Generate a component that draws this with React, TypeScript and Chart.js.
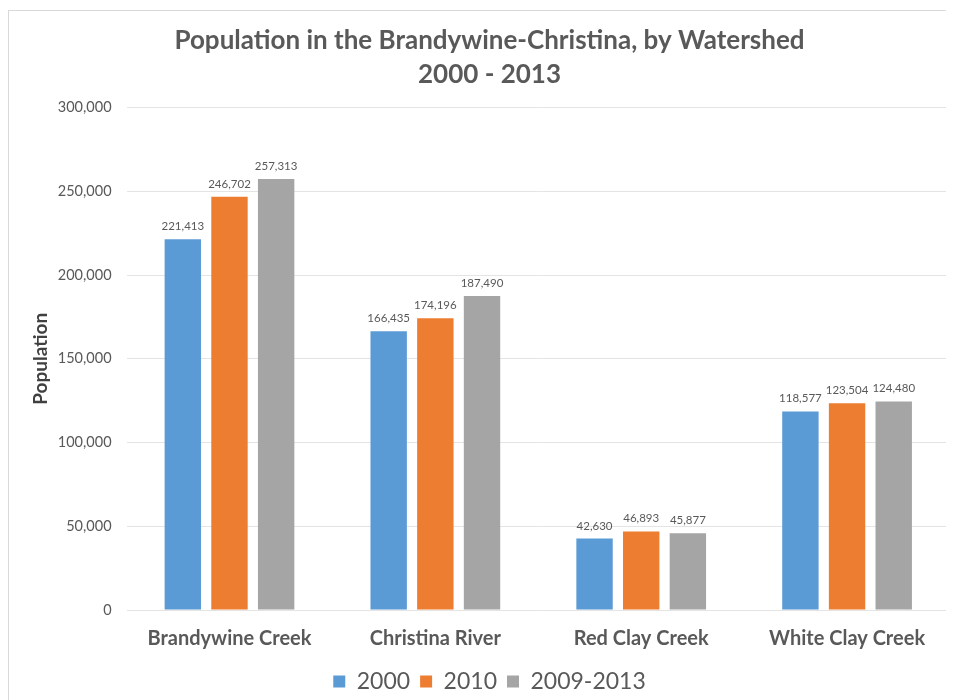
import React, { useEffect, useRef } from "react";
import { Chart, registerables } from "chart.js";

Chart.register(...registerables);

const categories = ["Brandywine Creek", "Christina River", "Red Clay Creek", "White Clay Creek"];
const series2000 = [221413, 166435, 42630, 118577];
const series2010 = [246702, 174196, 46893, 123504];
const series0913 = [257313, 187490, 45877, 124480];
const seriesNames = ["2000", "2010", "2009-2013"];
const titleLines = ["Population in the Brandywine-Christina, by Watershed", "2000 - 2013"];

const FONT = "Lato, 'Open Sans', sans-serif";
const TXT = "#595959";

const labelPlugin = {
  id: "barLabels",
  afterDatasetsDraw(chart: any) {
    const ctx = chart.ctx;
    ctx.save();
    ctx.font = `11.5px ${FONT}`;
    ctx.fillStyle = TXT;
    ctx.textAlign = "center";
    ctx.textBaseline = "bottom";
    chart.data.datasets.forEach((ds: any, di: number) => {
      const meta = chart.getDatasetMeta(di);
      meta.data.forEach((bar: any, i: number) => {
        const v = ds.data[i];
        ctx.fillText(v.toLocaleString("en-US"), bar.x, bar.y - 7);
      });
    });
    ctx.restore();
  },
};

export default function App() {
  const ref = useRef<HTMLCanvasElement>(null);
  useEffect(() => {
    if (!ref.current) return;
    const chart = new Chart(ref.current, {
      type: "bar",
      data: {
        labels: categories,
        datasets: [
          { label: seriesNames[0], data: series2000, backgroundColor: "#5b9bd5" },
          { label: seriesNames[1], data: series2010, backgroundColor: "#ed7d31" },
          { label: seriesNames[2], data: series0913, backgroundColor: "#a5a5a5" },
        ],
      },
      options: {
        animation: false,
        responsive: false,
        maintainAspectRatio: false,
        layout: { padding: { left: 20, right: 4, top: 13, bottom: -3 } },
        datasets: { bar: { categoryPercentage: 0.68, barPercentage: 0.78 } } as any,
        plugins: {
          title: {
            display: true,
            text: titleLines,
            color: TXT,
            font: { family: FONT, size: 26, weight: "bold", lineHeight: 1.3 },
            padding: { top: 0, bottom: 16 },
          },
          legend: {
            position: "bottom",
            labels: {
              color: TXT,
              font: { family: FONT, size: 23 },
              boxWidth: 12,
              boxHeight: 12,
              padding: 10,
            },
          },
          tooltip: { enabled: false },
        },
        scales: {
          x: {
            grid: { display: false },
            border: { display: false },
            ticks: { color: TXT, font: { family: FONT, size: 20, weight: "bold" }, padding: 9 },
          },
          y: {
            min: 0,
            max: 300000,
            ticks: {
              stepSize: 50000,
              color: TXT,
              font: { family: FONT, size: 14.5 },
              padding: 15,
              callback: (v: any) => Number(v).toLocaleString("en-US"),
            },
            grid: { color: "#e4e4e4", drawTicks: false },
            border: { display: false },
            title: {
              display: true,
              text: "Population",
              color: "#404040",
              font: { family: FONT, size: 19, weight: "bold" },
              padding: { top: 0, bottom: -9 },
            },
          },
        },
      },
      plugins: [labelPlugin],
    });
    return () => chart.destroy();
  }, []);
  return (
    <div style={{ width: 946, height: 690, borderLeft: "1px solid #d9d9d9", borderTop: "1px solid #d9d9d9", marginTop: 2, boxSizing: "border-box" }}>
      <canvas ref={ref} width={945} height={689} style={{ display: "block" }} />
    </div>
  );
}
